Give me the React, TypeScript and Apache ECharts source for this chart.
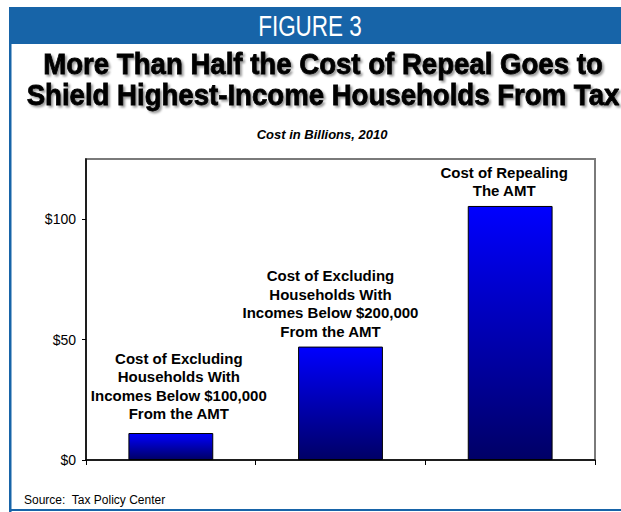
import React, { useEffect, useRef } from "react";
import * as echarts from "echarts";

const categories = ["Below $100,000", "Below $200,000", "Repeal"];
const values = [11.2, 47.1, 105.5];
const barLabels = [
  "Cost of Excluding\nHouseholds With\nIncomes Below $100,000\nFrom the AMT",
  "Cost of Excluding\nHouseholds With\nIncomes Below $200,000\nFrom the AMT",
  "Cost of Repealing\nThe AMT",
];
const labelGaps = [10, 6, 6];
const labelShifts = [8, -10, -6];
const yTicks = [0, 50, 100];

const figureLabel = "FIGURE 3";
const titleLines = [
  "More Than Half the Cost of Repeal Goes to",
  "Shield Highest-Income Households From Tax",
];
const subtitle = "Cost in Billions, 2010";
const source = "Source:  Tax Policy Center";

export default function App() {
  const ref = useRef<HTMLDivElement>(null);
  useEffect(() => {
    if (!ref.current) return;
    const chart = echarts.init(ref.current, null, { renderer: "svg" });
    const frameBlue = "#1764a8";
    const font = "Liberation Sans, Arial, sans-serif";
    const barGradient = new echarts.graphic.LinearGradient(0, 0, 0, 1, [
      { offset: 0, color: "#0000ff" },
      { offset: 1, color: "#000066" },
    ]);
    chart.setOption({
      animation: false,
      backgroundColor: "#ffffff",
      textStyle: { fontFamily: font },
      grid: {
        left: 86,
        right: 26,
        top: 159,
        bottom: 52,
        show: true,
        borderColor: "#7a7a7a",
        borderWidth: 2,
        backgroundColor: "transparent",
      },
      xAxis: {
        type: "category",
        data: categories,
        axisLine: { lineStyle: { color: "#000", width: 1.5 } },
        axisTick: { show: true, length: 5, lineStyle: { color: "#000" } },
        axisLabel: { show: false },
        splitLine: { show: false },
      },
      yAxis: {
        type: "value",
        min: 0,
        max: 125,
        interval: 25,
        axisLine: { show: true, lineStyle: { color: "#000", width: 1.5 } },
        axisTick: {
          show: true,
          length: 4,
          customValues: yTicks,
          lineStyle: { color: "#000" },
        },
        axisLabel: {
          customValues: yTicks,
          formatter: (v: number) => "$" + v,
          color: "#000",
          fontSize: 14,
          margin: 10,
          fontFamily: font,
        },
        splitLine: { show: false },
      },
      series: [
        {
          type: "bar",
          barWidth: "50%",
          data: values.map((v, i) => ({
            value: v,
            label: { distance: labelGaps[i], offset: [labelShifts[i], 0] },
          })),
          itemStyle: {
            color: barGradient,
            borderColor: "#000",
            borderWidth: 1,
          },
          label: {
            show: true,
            position: "top",
            formatter: (p: any) => barLabels[p.dataIndex],
            color: "#000",
            fontSize: 15,
            fontWeight: "bold",
            lineHeight: 18.5,
            align: "center",
            fontFamily: font,
          },
        },
      ],
      graphic: [
        {
          type: "rect",
          shape: { x: 9, y: 7, width: 612, height: 37 },
          style: { fill: frameBlue },
          silent: true,
        },
        {
          type: "rect",
          shape: { x: 9, y: 44, width: 2.5, height: 468 },
          style: { fill: frameBlue },
          silent: true,
        },
        {
          type: "rect",
          shape: { x: 9, y: 509, width: 612, height: 2 },
          style: { fill: frameBlue },
          silent: true,
        },
        {
          type: "text",
          x: 310,
          y: 26,
          scaleX: 0.75,
          style: {
            text: figureLabel,
            fill: "#fff",
            fontSize: 30,
            fontFamily: font,
            align: "center",
            verticalAlign: "middle",
          },
          silent: true,
        },
        ...titleLines.map((t, i) => ({
          type: "text",
          x: 323,
          y: 64 + i * 31,
          scaleX: 0.92,
          style: {
            text: t,
            fill: "#000",
            stroke: "#000",
            lineWidth: 0.8,
            fontSize: 30,
            fontWeight: "bold",
            fontFamily: font,
            align: "center",
            verticalAlign: "middle",
            textShadowColor: "rgba(0,0,0,0.4)",
            textShadowOffsetX: 2,
            textShadowOffsetY: 2,
            textShadowBlur: 2,
          },
          silent: true,
        })),
        {
          type: "text",
          x: 322,
          y: 134,
          style: {
            text: subtitle,
            fill: "#000",
            fontSize: 13,
            fontWeight: "bold",
            fontStyle: "italic",
            fontFamily: font,
            align: "center",
            verticalAlign: "middle",
          },
          silent: true,
        },
        {
          type: "text",
          x: 24,
          y: 500,
          style: {
            text: source,
            fill: "#000",
            fontSize: 12,
            fontFamily: font,
            align: "left",
            verticalAlign: "middle",
          },
          silent: true,
        },
      ],
    });
    return () => chart.dispose();
  }, []);
  return (
    <div
      ref={ref}
      style={{ position: "absolute", left: 0, top: 0, width: 621, height: 512 }}
    />
  );
}
